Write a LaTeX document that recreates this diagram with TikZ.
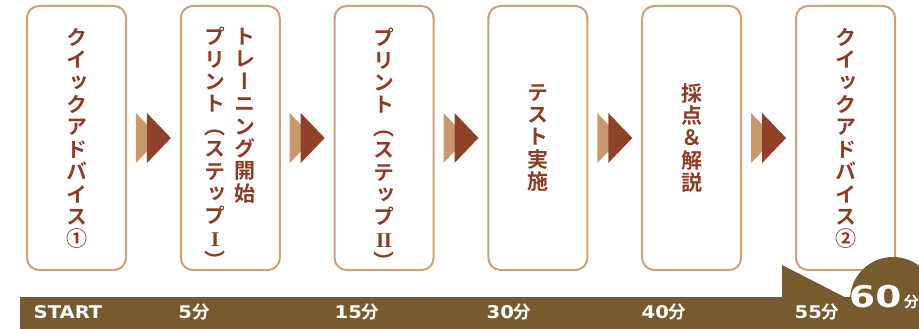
\documentclass[tikz,border=0pt]{standalone}
\usepackage{fontspec}
\usetikzlibrary{calc}
\newfontfamily\cjkv{Noto Sans CJK JP Bold}[RawFeature=+vert]
\newfontfamily\cjk{Noto Sans CJK JP Bold}
\newfontfamily\romfont{Liberation Serif Bold}
\newfontfamily\barfont{DejaVu Sans Bold}[FakeStretch=1.12]
\newfontfamily\bigfont{DejaVu Sans Bold}[FakeStretch=1.25]
\definecolor{boxc}{HTML}{CDA079}
\definecolor{txtc}{HTML}{8E3B24}
\definecolor{darkarr}{HTML}{8F4129}
\definecolor{tanarr}{HTML}{C9996C}
\definecolor{barc}{HTML}{775A2F}
\tikzset{
  box/.style={draw=boxc, line width=2pt, rounded corners=12pt, fill=white,
    minimum width=99pt, minimum height=264pt, inner sep=0pt},
  vtext/.style={text=txtc, font=\cjkv\fontsize{21}{22.4}\selectfont, align=center, inner sep=0pt},
  barlbl/.style={text=white, font=\barfont\fontsize{17.5}{17.5}\selectfont, anchor=base, inner sep=0pt},
}
\newcommand{\bunit}{{\cjk 分}}
\newcommand{\rI}{{\romfont I}}
\newcommand{\rII}{{\romfont I\kern-0.5pt I}}
\begin{document}
\begin{tikzpicture}[x=1pt,y=-1pt]
\useasboundingbox (0,0) rectangle (919,329);
% boxes
\node[box] (b1) at (76.5,138) {};
\node[box] (b2) at (230.3,138) {};
\node[box] (b3) at (384.1,138) {};
\node[box] (b4) at (537.9,138) {};
\node[box] (b5) at (691.7,138) {};
\node[box] (b6) at (845.5,138) {};
% texts
\node[vtext, anchor=north] (x1) at (b1.center |- 0,28) {ク\\イ\\ッ\\ク\\ア\\ド\\バ\\イ\\ス\\①};
\node[vtext, anchor=north] (x2a) at ($(b2.center |- 0,28)+(15,0)$) {ト\\レ\\ー\\ニ\\ン\\グ\\開\\始};
\node[vtext, anchor=north] (x2b) at ($(b2.center |- 0,27)+(-15,0)$) {プ\\リ\\ン\\ト\\（\\ス\\テ\\ッ\\プ\\\rI\\）};
\node[vtext, anchor=north] (x3) at (b3.center |- 0,28) {プ\\リ\\ン\\ト\\（\\ス\\テ\\ッ\\プ\\\rII\\）};
\node[vtext] (x4) at (b4.center) {テ\\ス\\ト\\実\\施};
\node[vtext] (x5) at (b5.center) {採\\点\\＆\\解\\説};
\node[vtext, anchor=north] (x6) at (b6.center |- 0,28) {ク\\イ\\ッ\\ク\\ア\\ド\\バ\\イ\\ス\\②};
% double arrows between boxes
\foreach \a/\b in {b1/b2,b2/b3,b3/b4,b4/b5,b5/b6}{
  \coordinate (g) at ($(\a.east)!0.5!(\b.west)$);
  \fill[tanarr] ($(g)+(-17.5,-25)$) -- ($(g)+(6.5,0)$) -- ($(g)+(-17.5,25)$) -- cycle;
  \fill[darkarr] ($(g)+(-6.5,-25)$) -- ($(g)+(17.5,0)$) -- ($(g)+(-6.5,25)$) -- cycle;
}
% timeline bar
\fill[barc] (20,297) rectangle (919,329);
\fill[barc] (782,297) -- (782,265) -- (862,306) -- (862,329) -- (782,329) -- cycle;
\fill[barc] (893,300) circle (43);
\node[barlbl] (t0) at (68,318) {START};
\node[barlbl] (t1) at (194,318) {5\bunit};
\node[barlbl] (t2) at (357,318) {15\bunit};
\node[barlbl] (t3) at (509,318) {30\bunit};
\node[barlbl] (t4) at (664,318) {40\bunit};
\node[barlbl] (t5) at (817,318) {55\bunit};
\node[barlbl, anchor=base west] (t6) at (849,307) {\bigfont\fontsize{30}{30}\selectfont 60{\cjk\fontsize{15}{15}\selectfont\,分}};
\end{tikzpicture}
\end{document}
